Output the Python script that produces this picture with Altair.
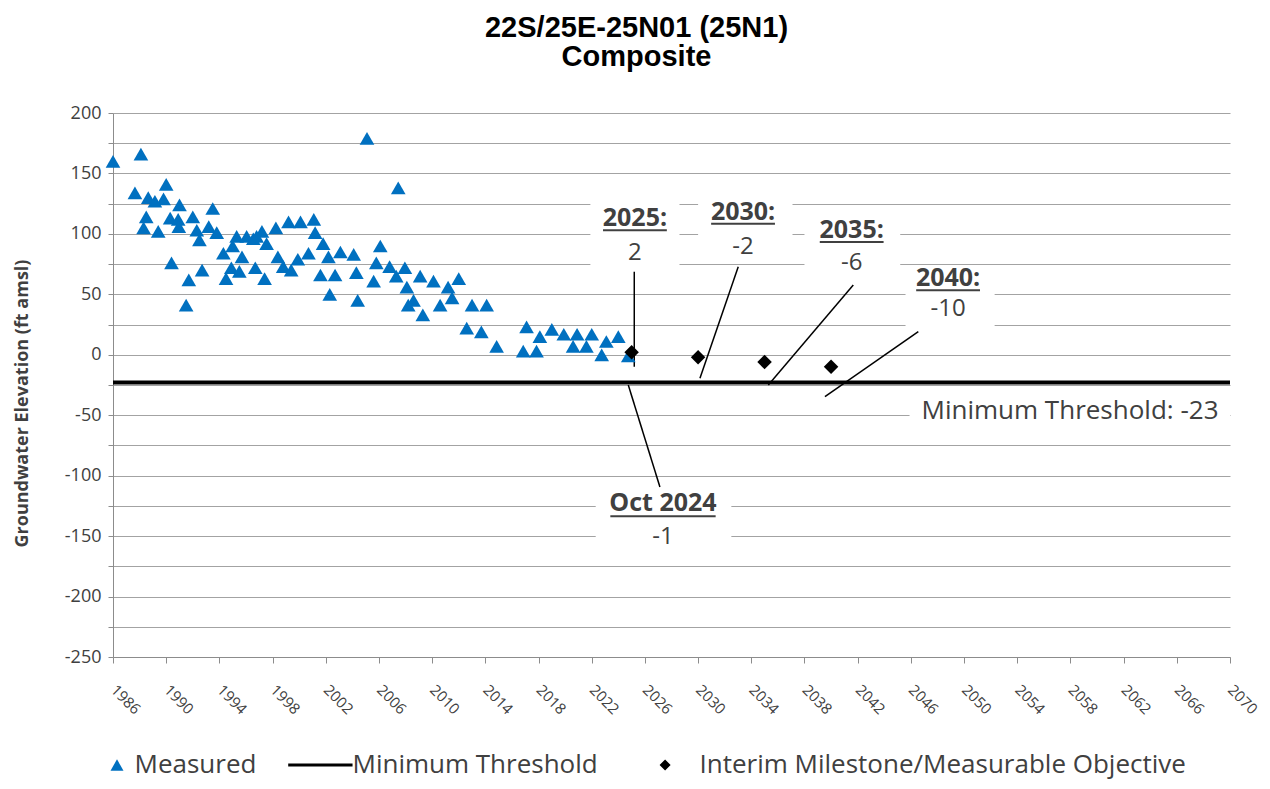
import altair as alt
import pandas as pd

# ---------------- data ----------------
meas_year = [1986.0, 1987.65, 1988.1, 1988.3, 1988.5, 1988.65, 1989.15, 1989.4, 1989.8, 1990.0,
             1990.3, 1990.4, 1990.9, 1990.95, 1991.0, 1991.5, 1991.7, 1992.0, 1992.3, 1992.5,
             1992.7, 1993.2, 1993.5, 1993.8, 1994.3, 1994.5, 1994.9, 1995.0, 1995.3, 1995.5,
             1995.7, 1996.05, 1996.55, 1996.7, 1996.8, 1997.2, 1997.4, 1997.55, 1998.25, 1998.4,
             1998.8, 1999.2, 1999.4, 1999.9, 2000.1, 2000.7, 2001.1, 2001.2, 2001.6, 2001.8,
             2002.2, 2002.3, 2002.7, 2003.1, 2004.1, 2004.3, 2004.4, 2005.1, 2005.6, 2005.8,
             2006.1, 2006.8, 2007.3, 2007.45, 2007.95, 2008.1, 2008.2, 2008.6, 2009.1, 2009.3,
             2010.1, 2010.6, 2011.2, 2011.5, 2012.0, 2012.6, 2013.0, 2013.7, 2014.1, 2014.85,
             2016.85, 2017.1, 2017.85, 2018.1, 2019.0, 2019.9, 2020.6, 2020.9, 2021.6, 2022.0,
             2022.75, 2023.1, 2024.0, 2024.75]
meas_value = [160, 134, 166, 105, 114, 130, 127, 102, 129, 141,
              113, 76, 112, 106, 124, 41, 62, 114, 103, 95,
              70, 106, 121, 101, 84, 63, 72, 90, 98, 69,
              81, 98, 96, 72, 98, 102, 63, 92, 105, 81,
              73, 110, 70, 79, 110, 84, 112, 101, 66, 92,
              81, 50, 66, 85, 83, 68, 45, 179, 61, 76,
              90, 73, 65, 138, 72, 56, 41, 45, 65, 33,
              61, 41, 56, 47, 63, 22, 41, 19, 41, 7,
              3, 23, 3, 15, 21, 17, 7, 17, 7, 17,
              0, 11, 15, -1]

milestone_year = [2025, 2030, 2035, 2040]
milestone_value = [2, -2, -6, -10]
threshold_value = -23

series_names = ["Measured", "Minimum Threshold", "Interim Milestone/Measurable Objective"]

x_ticks = list(range(1986, 2071, 4))
y_ticks = list(range(-250, 201, 25))

# callout annotations (anchors in data units)
ann_header = ["2025:", "2030:", "2035:", "2040:", "Oct 2024"]
ann_value = ["2", "-2", "-6", "-10", "-1"]
ann_x = [2025.25, 2033.38, 2041.55, 2048.8, 2027.36]
ann_head_y = [113.1, 118.4, 103.2, 63.3, -122.6]
ann_val_y = [84.2, 89.4, 75.7, 37.5, -150.7]
ann_ul_half = [2.4, 2.4, 2.4, 2.4, 3.96]
ann_ul_drop = [10, 10, 10, 10, 11]
box_x0 = [2021.9, 2030.0, 2038.0, 2045.6, 2022.3]
box_x1 = [2028.6, 2037.1, 2045.2, 2052.3, 2032.5]
box_top = [140, 135, 121, 72, -110]
box_bottom = [66, 78, 62, 18, -165]
leader_x1 = [2025.2, 2033.02, 2041.67, 2046.56, 2024.75]
leader_y1 = [68.7, 72.9, 57.7, 19.1, -25.0]
leader_x2 = [2025.2, 2030.14, 2035.28, 2039.54, 2027.13]
leader_y2 = [-9.9, -19.5, -25.0, -34.7, -109.4]

mt_label = "Minimum Threshold: -23"
mt_label_x = 2057.97
mt_label_y = -46.5
mt_box = [2045.9, 2070.0, -41, -55]

# ---------------- tables ----------------
meas_df = pd.DataFrame({"year": meas_year, "value": meas_value, "series": series_names[0]})
ms_df = pd.DataFrame({"year": milestone_year, "value": milestone_value, "series": series_names[2]})
thr_df = pd.DataFrame({"value": [threshold_value]})
ann_df = pd.DataFrame({
    "x": ann_x, "head": ann_header, "val": ann_value,
    "hy": ann_head_y, "vy": ann_val_y,
    "ul0": [a - h for a, h in zip(ann_x, ann_ul_half)],
    "ul1": [a + h for a, h in zip(ann_x, ann_ul_half)],
    "uly": [a - d for a, d in zip(ann_head_y, ann_ul_drop)],
    "bx0": box_x0, "bx1": box_x1, "by0": box_top, "by1": box_bottom,
    "lx1": leader_x1, "ly1": leader_y1, "lx2": leader_x2, "ly2": leader_y2,
})
mt_df = pd.DataFrame({"x": [mt_label_x], "y": [mt_label_y], "t": [mt_label],
                      "bx0": [mt_box[0]], "bx1": [mt_box[1]], "by0": [mt_box[2]], "by1": [mt_box[3]]})

# ---------------- scales / axes ----------------
FONT = "Open Sans"
TXT = "#404040"
x_scale = alt.Scale(domain=[1986, 2070], nice=False, zero=False)
y_scale = alt.Scale(domain=[-250, 200], nice=False, zero=False)

x_axis = alt.Axis(values=x_ticks, format="d", labelAngle=45, labelAlign="left",
                  labelBaseline="middle", labelPadding=24, tickSize=6, grid=False,
                  domainColor="#8c8c8c", tickColor="#8c8c8c", labelFont=FONT,
                  labelFontSize=15, labelColor=TXT, title=None, labelOverlap=False,
                  labelFlush=False, labelBound=False)
y_axis = alt.Axis(values=y_ticks, labelExpr="datum.value % 50 == 0 ? ('' + datum.value) : ''",
                  grid=True, gridColor="#a3a3a3", gridWidth=1, tickSize=5, labelPadding=7,
                  domainColor="#8c8c8c", tickColor="#8c8c8c", labelFont=FONT,
                  labelFontSize=18, labelColor=TXT, labelOverlap=False, labelFlush=False,
                  title="Groundwater Elevation (ft amsl)", titleFont=FONT, titleFontSize=18,
                  titleFontWeight="bold", titleColor=TXT, titleX=-82, titleY=290,
                  titleAngle=270, titleAlign="center", titleBaseline="bottom")

# legend-only glyphs: a thick line for the threshold, a left-shifted diamond for milestones
line_path = "M-7.2,-0.23H2.7V0.23H-7.2Z"
legend_diamond = "M-8.1,0L-8.1,0M-3.45,0L-2.6,-0.85L-1.75,0L-2.6,0.85Z"
color_scale = alt.Scale(domain=series_names, range=["#0070C0", "black", "black"])
shape_scale = alt.Scale(domain=series_names, range=["triangle-up", line_path, legend_diamond])
legend = alt.Legend(title=None, orient="none", legendX=-9, legendY=639, direction="horizontal",
                    labelFont=FONT, labelFontSize=26, labelColor=TXT, symbolSize=169,
                    labelOffset=4.5, columnPadding=31, symbolStrokeWidth=0, padding=0,
                    labelLimit=0)

X = lambda f: alt.X(f, type="quantitative", scale=x_scale, axis=x_axis)
Y = lambda f: alt.Y(f, type="quantitative", scale=y_scale, axis=y_axis)

boxes = alt.Chart(ann_df).mark_rect(fill="white").encode(
    x=X("bx0"), x2="bx1", y=Y("by0"), y2="by1")
mt_boxes = alt.Chart(mt_df).mark_rect(fill="white").encode(
    x=X("bx0"), x2="bx1", y=Y("by0"), y2="by1")

threshold = alt.Chart(thr_df).mark_rule(color="black", strokeWidth=4).encode(y=Y("value"))

leaders = alt.Chart(ann_df).mark_rule(color="black", strokeWidth=1.5).encode(
    x=X("lx1"), y=Y("ly1"), x2="lx2", y2="ly2")

measured = alt.Chart(meas_df).mark_point(filled=True, size=215, opacity=1).encode(
    x=X("year"), y=Y("value"),
    color=alt.Color("series:N", scale=color_scale, legend=legend),
    shape=alt.Shape("series:N", scale=shape_scale, legend=legend))
milestones = alt.Chart(ms_df).mark_point(filled=True, size=210, opacity=1, shape="diamond").encode(
    x=X("year"), y=Y("value"),
    color=alt.Color("series:N", scale=color_scale, legend=legend))

heads = alt.Chart(ann_df).mark_text(font=FONT, fontSize=25, fontWeight="bold", color=TXT,
                                    align="center", baseline="middle").encode(
    x=X("x"), y=Y("hy"), text="head:N")
underlines = alt.Chart(ann_df).mark_rule(color=TXT, strokeWidth=2).encode(
    x=X("ul0"), x2="ul1", y=Y("uly"))
vals = alt.Chart(ann_df).mark_text(font=FONT, fontSize=24, color=TXT,
                                   align="center", baseline="middle").encode(
    x=X("x"), y=Y("vy"), text="val:N")
mt_text = alt.Chart(mt_df).mark_text(font=FONT, fontSize=26, color=TXT,
                                     align="center", baseline="middle").encode(
    x=X("x"), y=Y("y"), text="t:N")

chart = alt.layer(boxes, mt_boxes, threshold, leaders, measured, milestones,
                  heads, underlines, vals, mt_text).properties(
    width=1117, height=544,
    title=alt.TitleParams(text=["22S/25E-25N01 (25N1)", "Composite"], font="Liberation Sans",
                          fontSize=29, fontWeight="bold", color="black", lineHeight=29,
                          anchor="middle", dx=-35, offset=32),
    autosize=alt.AutoSizeParams(type="none"),
    padding={"left": 105, "top": 105, "right": 32, "bottom": 124},
    background="white",
).configure_view(stroke=None)

chart.save("out.html", embed_options={"renderer": "svg", "actions": False})
